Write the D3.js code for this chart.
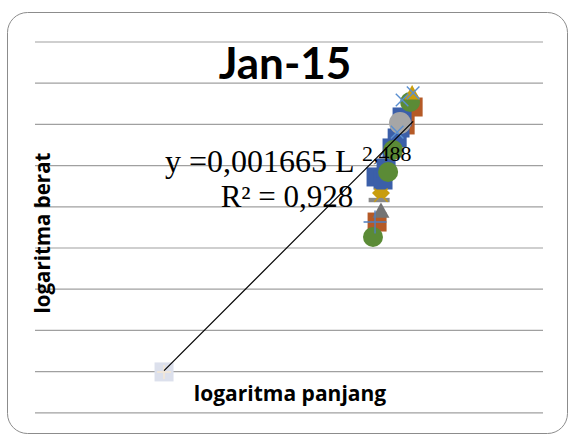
<!DOCTYPE html>
<html>
<head>
<meta charset="utf-8">
<script src="https://cdn.jsdelivr.net/npm/d3@7"></script>
<style>
  html, body { margin: 0; padding: 0; background: #fff; }
  svg { display: block; }
</style>
</head>
<body>
<svg id="chart" width="568" height="434"></svg>
<script>
// ---- data: log10 length (panjang) and log10 weight (berat) per sample group ----
const seriesNames = ["S1", "S2", "S3", "S4", "S5", "S6", "S7", "S8", "S9", "S10", "S11", "S12"];
const logPanjang = [
  [2.360, 2.497, 2.536],                               // S1
  [2.355, 2.389, 2.404, 2.433, 2.458, 2.472, 2.482],   // S2
  [2.379],                                             // S3
  [2.531],                                             // S4
  [2.379],                                             // S5
  [2.370],                                             // S6
  [2.472],                                             // S7
  [2.340, 2.414, 2.438, 2.521],                        // S8
  [2.350],                                             // S9
  [2.536, 2.482, 2.458],                               // S10
  [2.379],                                             // S11
  [1.320]                                              // S12
];
const logBerat = [
  [2.309, 3.487, 3.705],
  [2.856, 2.819, 2.965, 3.208, 3.329, 3.450, 3.584],
  [2.661],
  [3.875],
  [2.443],
  [2.576],
  [3.511],
  [2.127, 2.916, 3.183, 3.766],
  [2.309],
  [3.876, 3.790, 3.400],
  [2.636],
  [0.490]
];

// power trendline W = a * L^b and its fit
const trendA = 0.001665;
const trendB = 2.488;
const trendR2 = 0.928;

// gridline values on the log-weight axis
const yTicks = [0, 0.5, 1, 1.5, 2, 2.5, 3, 3.5, 4, 4.5];
const xDomain = [0.69, 3.17];

const chartTitle = "Jan-15";
const xTitle = "logaritma panjang";
const yTitle = "logaritma berat";

// ---- marker styling per series ----
const markerShape = ["square", "square", "diamond", "triangle", "triangle", "dash", "circle",
                     "circle", "plus", "times", "times", "square"];
const markerColor = ["#b55a27", "#3b5fa9", "#c99d0e", "#c99d0e", "#747474", "#8a8a8a", "#a6a6a6",
                     "#5b8b36", "#4f7fc0", "#5a8fd0", "#c99d0e", "#dce0ec"];
const markerSize = [19, 19, 18, 16, 17, 21, 22, 20, 23, 18, 19, 19];

const svg = d3.select("#chart");

// chart frame
svg.append("rect")
  .attr("x", 7.5).attr("y", 12.5)
  .attr("width", 560).attr("height", 421)
  .attr("rx", 20).attr("ry", 20)
  .attr("fill", "#fff")
  .attr("stroke", "#8c8c8c")
  .attr("stroke-width", 1);

const plot = { left: 35, right: 543, top: 41.5, bottom: 412.3 };

const x = d3.scaleLinear().domain(xDomain).range([plot.left, plot.right]);
const y = d3.scaleLinear().domain([yTicks[0], yTicks[yTicks.length - 1]]).range([plot.bottom, plot.top]);

// horizontal gridlines through a hidden axis
const yAxis = d3.axisLeft(y).tickValues(yTicks).tickSize(-(plot.right - plot.left)).tickFormat("");
const gAxis = svg.append("g").attr("transform", `translate(${plot.left},0)`).call(yAxis);
gAxis.select(".domain").remove();
gAxis.selectAll(".tick line").attr("stroke", "#a0a0a0").attr("stroke-width", 1.2);

// title
svg.append("text")
  .attr("x", 285).attr("y", 79)
  .attr("text-anchor", "middle")
  .attr("font-family", "Lato, 'Open Sans', sans-serif")
  .attr("font-weight", "bold")
  .attr("font-size", 44)
  .attr("fill", "#000")
  .text(chartTitle);

// axis titles
svg.append("text")
  .attr("x", 290).attr("y", 401)
  .attr("text-anchor", "middle")
  .attr("font-family", "'Open Sans', sans-serif")
  .attr("font-weight", "bold")
  .attr("font-size", 21)
  .attr("fill", "#000")
  .text(xTitle);

svg.append("text")
  .attr("transform", "translate(50,233) rotate(-90)")
  .attr("text-anchor", "middle")
  .attr("font-family", "'Open Sans', sans-serif")
  .attr("font-weight", "bold")
  .attr("font-size", 20.5)
  .attr("fill", "#000")
  .text(yTitle);

// marker path for a given shape and size (pixels across)
function markerPath(shape, s) {
  const h = s / 2;
  switch (shape) {
    case "square": return d3.symbol(d3.symbolSquare, s * s)();
    case "circle": return d3.symbol(d3.symbolCircle, Math.PI * h * h)();
    case "diamond": return `M0,${-h}L${h},0L0,${h}L${-h},0Z`;
    case "triangle": return `M0,${-h}L${h},${h * 0.8}L${-h},${h * 0.8}Z`;
    case "dash": return `M${-h},-2.2L${h},-2.2L${h},2.2L${-h},2.2Z`;
    case "plus": return `M0,${-h}L0,${h}M${-h},0L${h},0`;
    case "times": return `M${-h * 0.7},${-h * 0.7}L${h * 0.7},${h * 0.7}M${-h * 0.7},${h * 0.7}L${h * 0.7},${-h * 0.7}`;
  }
}
const strokeOnly = new Set(["plus", "times"]);

// draw order of the series (later ones on top)
const drawOrder = [11, 0, 2, 1, 4, 5, 6, 7, 3, 10, 8, 9];

const gPts = svg.append("g");
drawOrder.forEach(si => {
  const pts = logPanjang[si].map((l, i) => ({ l, w: logBerat[si][i] }));
  const line = strokeOnly.has(markerShape[si]);
  gPts.append("g").attr("class", "series " + seriesNames[si])
    .selectAll("path").data(pts).join("path")
    .attr("transform", d => `translate(${x(d.l)},${y(d.w)})`)
    .attr("d", markerPath(markerShape[si], markerSize[si]))
    .attr("fill", line ? "none" : markerColor[si])
    .attr("stroke", line ? markerColor[si] : "none")
    .attr("stroke-width", line ? 1.4 : 0);
});

// faint cross inside the pale outlier marker
const outlier = gPts.append("g");
logPanjang[11].forEach((l, i) => {
  outlier.append("path")
    .attr("transform", `translate(${x(l)},${y(logBerat[11][i])})`)
    .attr("d", markerPath("plus", 14))
    .attr("stroke", "#efe6da").attr("stroke-width", 2).attr("fill", "none");
});

// power trendline, straight in log-log space, over the data range
const allL = logPanjang.flat();
const lExt = d3.extent(allL);
const trendLog = l => Math.log10(trendA) + trendB * l;
svg.append("path")
  .datum(lExt)
  .attr("d", d3.line().x(d => x(d)).y(d => y(trendLog(d))))
  .attr("stroke", "#000").attr("stroke-width", 1.2).attr("fill", "none");

// equation and R² labels
const fmtComma = (v, spec) => d3.format(spec)(v).replace(".", ",");
const eq = svg.append("text")
  .attr("font-family", "'Liberation Serif', 'Times New Roman', serif")
  .attr("fill", "#000");
eq.append("tspan")
  .attr("x", 165).attr("y", 172)
  .attr("font-size", 32)
  .text(`y =${fmtComma(trendA, ".6f")} L `);
eq.append("tspan")
  .attr("x", 362).attr("y", 161)
  .attr("font-size", 22)
  .text(fmtComma(trendB, ".3f"));

svg.append("text")
  .attr("x", 287).attr("y", 207)
  .attr("text-anchor", "middle")
  .attr("font-family", "'Liberation Serif', 'Times New Roman', serif")
  .attr("font-size", 31)
  .attr("fill", "#000")
  .text(`R² = ${fmtComma(trendR2, ".3f")}`);
</script>
</body>
</html>
